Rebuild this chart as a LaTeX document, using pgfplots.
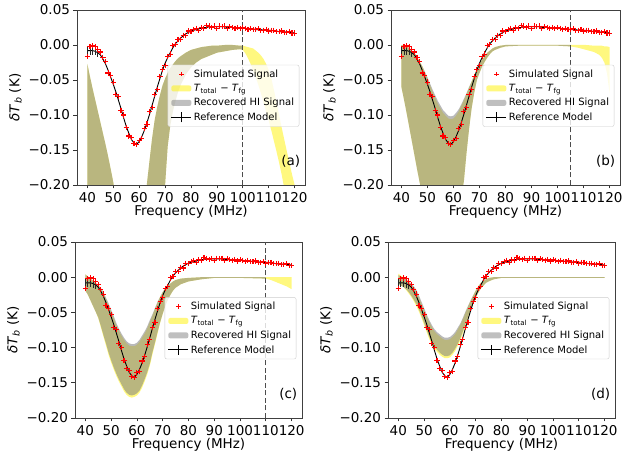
\documentclass[border=0pt]{standalone}
\usepackage{fontspec}
\setmainfont{DejaVu Sans}
\usepackage{pgfplots}
\usepackage{pgfplotstable}
\pgfplotsset{compat=1.18}

% simulated signal and reference model (same in every panel)
\pgfplotstableread{
x ref sim
40 -0.008 -0.016
41 -0.008 -0.002
42 -0.008 -0.001
43 -0.009 -0.002
44 -0.011 -0.006
45 -0.014 -0.010
46 -0.020 -0.018
47 -0.027 -0.024
48 -0.036 -0.040
49 -0.046 -0.044
50 -0.056 -0.053
51 -0.067 -0.071
52 -0.079 -0.074
53 -0.091 -0.094
54 -0.104 -0.100
55 -0.116 -0.118
56 -0.126 -0.130
57 -0.135 -0.132
58 -0.140 -0.141
59 -0.142 -0.142
60 -0.138 -0.136
61 -0.131 -0.134
62 -0.122 -0.119
63 -0.111 -0.113
64 -0.099 -0.095
65 -0.086 -0.089
66 -0.073 -0.071
67 -0.060 -0.064
68 -0.048 -0.045
69 -0.036 -0.035
70 -0.026 -0.029
71 -0.018 -0.016
72 -0.011 -0.013
73 -0.004 -0.001
74 0.002 0.001
75 0.006 0.008
76 0.010 0.008
77 0.013 0.014
78 0.016 0.013
79 0.018 0.020
80 0.020 0.019
81 0.021 0.022
82 0.022 0.024
83 0.023 0.021
84 0.024 0.025
85 0.025 0.024
86 0.025 0.028
87 0.026 0.027
88 0.026 0.025
89 0.026 0.027
90 0.026 0.024
91 0.026 0.027
92 0.026 0.026
93 0.026 0.027
94 0.025 0.024
95 0.025 0.026
96 0.025 0.025
97 0.025 0.024
98 0.024 0.025
99 0.024 0.023
100 0.024 0.025
101 0.024 0.024
102 0.023 0.022
103 0.023 0.024
104 0.023 0.022
105 0.022 0.022
106 0.022 0.023
107 0.022 0.021
108 0.021 0.021
109 0.021 0.022
110 0.021 0.020
111 0.021 0.021
112 0.020 0.021
113 0.020 0.019
114 0.019 0.019
115 0.019 0.020
116 0.019 0.018
117 0.018 0.018
118 0.018 0.019
119 0.018 0.017
120 0.017 0.017
}\sig

% error bars of the reference model (only visible at the low end)
\pgfplotstableread{
x ref err
40 -0.008 0.006
41 -0.008 0.006
42 -0.008 0.006
43 -0.009 0.006
44 -0.011 0.006
}\refbars

% bands as closed outlines: upper edge left to right, then lower edge back
% panel (a)
\pgfplotstableread{
x y
40 -0.027
41 -0.045
42 -0.062
43 -0.078
44 -0.094
45 -0.110
46 -0.126
47 -0.142
48 -0.159
49 -0.177
50 -0.196
52 -0.240
55 -0.300
58 -0.320
60 -0.290
62 -0.225
63 -0.198
64 -0.165
65 -0.133
66 -0.107
67 -0.088
68 -0.072
69 -0.058
70 -0.048
71 -0.040
72 -0.033
73 -0.028
74 -0.023
75 -0.019
76 -0.016
78 -0.011
80 -0.007
82 -0.005
84 -0.003
86 -0.002
88 -0.001
90 -0.001
93 0.000
96 0.000
99 -0.001
100 -0.001
101 -0.002
102 -0.003
103 -0.004
104 -0.005
105 -0.008
106 -0.011
107 -0.015
108 -0.020
109 -0.027
110 -0.036
111 -0.048
112 -0.064
113 -0.082
114 -0.100
115 -0.118
116 -0.135
117 -0.152
118 -0.168
119 -0.185
120 -0.200
120 -0.300
118 -0.250
116 -0.205
115 -0.185
114 -0.168
113 -0.152
112 -0.137
111 -0.122
110 -0.108
109 -0.095
108 -0.082
107 -0.069
106 -0.057
105 -0.046
104 -0.036
103 -0.027
102 -0.019
101 -0.012
100 -0.007
99 -0.006
96 -0.007
93 -0.009
90 -0.011
88 -0.014
86 -0.017
84 -0.020
82 -0.025
80 -0.032
78 -0.042
76 -0.057
75 -0.067
74 -0.080
73 -0.095
72 -0.115
71 -0.145
70 -0.200
69 -0.320
68 -0.500
40 -0.500
}\yelA
\pgfplotstableread{
x y
40 -0.027
41 -0.045
42 -0.062
43 -0.078
44 -0.094
45 -0.110
46 -0.126
47 -0.142
48 -0.159
49 -0.177
50 -0.196
52 -0.240
55 -0.300
58 -0.320
60 -0.290
62 -0.225
63 -0.198
64 -0.165
65 -0.133
66 -0.107
67 -0.088
68 -0.072
69 -0.058
70 -0.048
71 -0.040
72 -0.033
73 -0.028
74 -0.023
75 -0.019
76 -0.016
78 -0.011
80 -0.007
82 -0.005
84 -0.003
86 -0.002
88 -0.001
90 -0.001
93 0.000
96 0.000
99 -0.001
100 -0.001
100 -0.007
99 -0.006
96 -0.007
93 -0.009
90 -0.011
88 -0.014
86 -0.017
84 -0.020
82 -0.025
80 -0.032
78 -0.042
76 -0.057
75 -0.067
74 -0.080
73 -0.095
72 -0.115
71 -0.145
70 -0.200
69 -0.320
68 -0.500
40 -0.500
}\greyA

% panel (b)
\pgfplotstableread{
x y
40 0.000
41 -0.001
42 -0.002
43 -0.004
44 -0.008
45 -0.011
46 -0.017
47 -0.024
48 -0.030
49 -0.039
50 -0.048
52 -0.067
54 -0.084
56 -0.097
58 -0.105
59 -0.106
60 -0.105
61 -0.101
62 -0.095
63 -0.087
64 -0.079
65 -0.070
66 -0.061
67 -0.052
68 -0.043
69 -0.034
70 -0.027
71 -0.021
72 -0.016
73 -0.011
74 -0.008
75 -0.005
76 -0.003
78 -0.001
80 0.000
111 0.000
114 -0.001
116 -0.001
117 -0.001
118 -0.002
119 -0.002
120 -0.003
120 -0.069
119 -0.040
118 -0.025
117 -0.018
116 -0.014
114 -0.010
111 -0.007
108 -0.004
105 -0.002
100 -0.001
85 -0.001
80 -0.002
78 -0.004
76 -0.007
75 -0.009
74 -0.013
73 -0.018
72 -0.024
71 -0.031
70 -0.040
69 -0.050
68 -0.068
67 -0.090
66 -0.120
65 -0.155
64 -0.195
63 -0.215
62 -0.240
61 -0.265
60 -0.290
59 -0.310
58 -0.320
56 -0.320
54 -0.310
52 -0.290
50 -0.255
49 -0.235
48 -0.215
47 -0.196
46 -0.177
45 -0.157
44 -0.137
43 -0.117
42 -0.097
41 -0.078
40 -0.060
}\yelB
\pgfplotstableread{
x y
40 0.000
41 -0.001
42 -0.002
43 -0.004
44 -0.008
45 -0.011
46 -0.017
47 -0.024
48 -0.030
49 -0.038
50 -0.046
52 -0.064
54 -0.080
56 -0.093
58 -0.101
59 -0.102
60 -0.101
61 -0.097
62 -0.092
63 -0.085
64 -0.077
65 -0.069
66 -0.060
67 -0.052
68 -0.043
69 -0.034
70 -0.027
71 -0.021
72 -0.016
73 -0.011
74 -0.008
75 -0.005
76 -0.003
78 -0.001
80 0.000
105 0.000
105 -0.002
100 -0.001
85 -0.001
80 -0.002
78 -0.004
76 -0.007
75 -0.009
74 -0.013
73 -0.018
72 -0.024
71 -0.031
70 -0.040
69 -0.050
68 -0.068
67 -0.090
66 -0.120
65 -0.155
64 -0.195
63 -0.215
62 -0.240
61 -0.265
60 -0.290
59 -0.310
58 -0.320
56 -0.320
54 -0.310
52 -0.290
50 -0.255
49 -0.235
48 -0.215
47 -0.196
46 -0.177
45 -0.157
44 -0.137
43 -0.117
42 -0.097
41 -0.078
40 -0.060
}\greyB

% panel (c)
\pgfplotstableread{
x y
40 0.004
41 0.001
42 -0.002
43 -0.005
44 -0.008
45 -0.012
46 -0.017
47 -0.023
48 -0.031
49 -0.040
50 -0.049
51 -0.058
52 -0.068
53 -0.076
54 -0.083
55 -0.089
56 -0.094
57 -0.097
58 -0.098
59 -0.098
60 -0.096
61 -0.092
62 -0.086
63 -0.080
64 -0.073
65 -0.064
66 -0.055
67 -0.045
68 -0.036
69 -0.028
70 -0.021
71 -0.016
72 -0.012
73 -0.009
74 -0.006
75 -0.004
77 -0.002
80 -0.001
85 0.000
120 0.000
120 -0.017
118 -0.013
116 -0.010
114 -0.007
112 -0.004
110 -0.002
100 -0.001
90 -0.001
85 -0.003
80 -0.006
77 -0.010
75 -0.015
74 -0.019
73 -0.025
72 -0.032
71 -0.041
70 -0.052
69 -0.065
68 -0.080
67 -0.095
66 -0.110
65 -0.126
64 -0.138
63 -0.148
62 -0.157
61 -0.164
60 -0.168
59 -0.170
58 -0.171
57 -0.170
56 -0.167
55 -0.162
54 -0.155
53 -0.148
52 -0.140
51 -0.131
50 -0.121
49 -0.110
48 -0.097
47 -0.084
46 -0.071
45 -0.058
44 -0.049
43 -0.041
42 -0.033
41 -0.025
40 -0.019
}\yelC
\pgfplotstableread{
x y
40 0.004
41 0.001
42 -0.002
43 -0.005
44 -0.008
45 -0.011
46 -0.015
47 -0.021
48 -0.029
49 -0.037
50 -0.046
51 -0.055
52 -0.065
53 -0.073
54 -0.080
55 -0.086
56 -0.091
57 -0.094
58 -0.095
59 -0.095
60 -0.093
61 -0.089
62 -0.083
63 -0.077
64 -0.070
65 -0.061
66 -0.053
67 -0.044
68 -0.035
69 -0.028
70 -0.021
71 -0.016
72 -0.012
73 -0.009
74 -0.006
75 -0.004
77 -0.002
80 -0.001
85 0.000
110 0.000
110 -0.002
100 -0.001
90 -0.001
85 -0.003
80 -0.006
77 -0.010
75 -0.015
74 -0.019
73 -0.025
72 -0.032
71 -0.041
70 -0.052
69 -0.064
68 -0.078
67 -0.093
66 -0.107
65 -0.123
64 -0.135
63 -0.145
62 -0.154
61 -0.161
60 -0.165
59 -0.167
58 -0.168
57 -0.167
56 -0.164
55 -0.159
54 -0.152
53 -0.145
52 -0.137
51 -0.128
50 -0.118
49 -0.107
48 -0.094
47 -0.082
46 -0.069
45 -0.057
44 -0.049
43 -0.041
42 -0.033
41 -0.025
40 -0.019
}\greyC

% panel (d)
\pgfplotstableread{
x y
40 0.005
41 0.002
42 0.000
43 -0.003
44 -0.007
45 -0.011
46 -0.015
47 -0.021
48 -0.029
49 -0.038
50 -0.047
51 -0.056
52 -0.064
53 -0.071
54 -0.077
55 -0.081
56 -0.084
57 -0.087
58 -0.089
59 -0.089
60 -0.088
61 -0.085
62 -0.081
63 -0.075
64 -0.068
65 -0.060
66 -0.051
67 -0.042
68 -0.034
69 -0.026
70 -0.019
71 -0.013
72 -0.008
73 -0.005
74 -0.003
75 -0.001
77 0.000
120 0.000
120 -0.001
80 -0.001
77 -0.003
75 -0.006
74 -0.008
73 -0.012
72 -0.016
71 -0.022
70 -0.029
69 -0.038
68 -0.047
67 -0.058
66 -0.069
65 -0.080
64 -0.090
63 -0.098
62 -0.105
61 -0.110
60 -0.114
59 -0.115
58 -0.115
57 -0.113
56 -0.110
55 -0.106
54 -0.102
53 -0.096
52 -0.088
51 -0.078
50 -0.068
49 -0.058
48 -0.049
47 -0.041
46 -0.034
45 -0.028
44 -0.023
43 -0.018
42 -0.014
41 -0.012
40 -0.009
}\yelD
\pgfplotstableread{
x y
40 0.003
41 0.001
42 -0.001
43 -0.003
44 -0.006
45 -0.009
46 -0.013
47 -0.018
48 -0.026
49 -0.035
50 -0.044
51 -0.053
52 -0.061
53 -0.068
54 -0.074
55 -0.078
56 -0.081
57 -0.084
58 -0.086
59 -0.086
60 -0.085
61 -0.082
62 -0.078
63 -0.072
64 -0.066
65 -0.058
66 -0.049
67 -0.041
68 -0.033
69 -0.026
70 -0.019
71 -0.013
72 -0.008
73 -0.005
74 -0.003
75 -0.001
77 0.000
120 0.000
120 -0.001
80 -0.001
77 -0.003
75 -0.006
74 -0.008
73 -0.012
72 -0.016
71 -0.022
70 -0.029
69 -0.037
68 -0.046
67 -0.056
66 -0.067
65 -0.077
64 -0.087
63 -0.095
62 -0.102
61 -0.107
60 -0.111
59 -0.112
58 -0.112
57 -0.110
56 -0.107
55 -0.103
54 -0.099
53 -0.093
52 -0.085
51 -0.075
50 -0.065
49 -0.055
48 -0.046
47 -0.038
46 -0.032
45 -0.026
44 -0.021
43 -0.017
42 -0.014
41 -0.012
40 -0.009
}\greyD

\newcommand{\fsize}{\fontsize{13.5}{16}\selectfont}

\pgfplotsset{
  patch legend/.style={legend image code/.code={%
    \fill[##1] (0pt,-3pt) rectangle (20pt,3pt);}},
  mark legend/.style={legend image code/.code={%
    \draw[##1] plot coordinates {(10pt,0pt)};}},
  errbar legend/.style={legend image code/.code={%
    \draw[##1] (0pt,0pt) -- (20pt,0pt);
    \draw[black, line width=0.8pt] (10pt,-5pt) -- (10pt,5pt);}},
  panel/.style={
    scale only axis, anchor=north west,
    xmin=36, xmax=124, ymin=-0.2, ymax=0.05,
    xtick={40,50,60,70,80,90,100,110,120},
    xticklabels={40,50,60,70,80,90,100,110,120},
    ytick={-0.2,-0.15,-0.1,-0.05,0,0.05},
    yticklabels={−0.20,−0.15,−0.10,−0.05,0.00,0.05},
    xtick pos=bottom, ytick pos=left,
    tick align=outside, major tick length=3.5pt,
    axis line style={black!75, line width=0.8pt},
    tick style={black!80, line width=0.8pt},
    tick label style={font=\fsize},
    label style={font=\fsize},
    xlabel={Frequency (MHz)},
    xlabel style={yshift=4pt},
    ylabel={\textit{δT}\textsubscript{\textit{b}} (K)},
    legend cell align=left,
    legend style={at={(0.975,0.51)}, anchor=east, draw=black!20,
      rounded corners=2pt, fill=white, fill opacity=0.8, text opacity=1,
      font=\fontsize{10}{12}\selectfont, row sep=1.5pt,
      inner xsep=3pt, inner ysep=2.5pt},
  },
}

% yellow band, then grey band on top
\newcommand{\bands}[2]{%
  \addplot[fill=yellow, fill opacity=0.5, draw=none, no markers, forget plot] table {#1};
  \addplot[fill=gray, fill opacity=0.55, draw=none, no markers, forget plot] table {#2};
}
% reference model first, simulated points on top of it
\newcommand{\signals}{%
  \addplot[draw=black, no markers, line width=0.9pt, forget plot] table[x=x, y=ref] {\sig};
  \addplot[draw=none, no markers, forget plot,
    error bars/.cd, y dir=both, y explicit, error mark=none,
    error bar style={draw=black!85, line width=0.8pt}]
    table[x=x, y=ref, y error=err] {\refbars};
  \addplot[only marks, color=red, mark=+, mark size=2.6pt,
    mark options={draw=red, solid, line width=1.1pt}, forget plot]
    table[x=x, y=sim] {\sig};
}
\newcommand{\cut}[1]{%
  \addplot[black!70, no markers, line width=1pt, dash pattern=on 5pt off 2.5pt, forget plot]
    coordinates {(#1,-0.2) (#1,0.05)};
}
\newcommand{\legendentries}{%
  \addlegendimage{mark legend, red, line width=0.9pt, mark=+, mark size=2.2pt}
  \addlegendimage{patch legend, fill=yellow, fill opacity=0.5, draw=none}
  \addlegendimage{patch legend, fill=gray, fill opacity=0.5, draw=none}
  \addlegendimage{errbar legend, black, line width=1pt}
  \legend{Simulated Signal,
    \textit{T}\textsubscript{total} − \textit{T}\textsubscript{fg},
    Recovered HI Signal, Reference Model}
}
\newcommand{\paneltag}[1]{%
  \node[anchor=south east, font=\fsize, inner sep=0pt] at (rel axis cs:0.98,0.1) {#1};
}

\begin{document}
\begin{tikzpicture}
\useasboundingbox (0,0) rectangle (638pt,-454pt);

\begin{axis}[panel, at={(77pt,-10pt)}, width=228pt, height=175pt]
  \bands{\yelA}{\greyA}
  \signals
  \cut{100}
  \legendentries
  \paneltag{(a)}
\end{axis}

\begin{axis}[panel, at={(391pt,-10pt)}, width=229pt, height=175pt]
  \bands{\yelB}{\greyB}
  \signals
  \cut{105}
  \legendentries
  \paneltag{(b)}
\end{axis}

\begin{axis}[panel, at={(75pt,-242pt)}, width=227pt, height=176pt]
  \bands{\yelC}{\greyC}
  \signals
  \cut{110}
  \legendentries
  \paneltag{(c)}
\end{axis}

\begin{axis}[panel, at={(388pt,-242pt)}, width=227pt, height=176pt]
  \bands{\yelD}{\greyD}
  \signals
  \legendentries
  \paneltag{(d)}
\end{axis}
\end{tikzpicture}
\end{document}
